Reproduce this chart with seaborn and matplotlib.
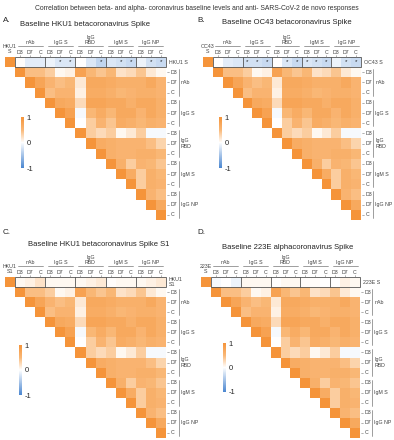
import numpy as np
import seaborn as sns
import matplotlib.pyplot as plt
from matplotlib.colors import LinearSegmentedColormap
from matplotlib.patches import Rectangle

sns.set_style('white')
plt.rcParams['font.family'] = ['Liberation Sans', 'DejaVu Sans']

# Etiquetas
grupos = ['nAb', 'IgG S', 'IgG\nRBD', 'IgM S', 'IgG NP']
tiempos = ['D3', 'D7', 'C']

# Matriz triangular superior (respuestas de novo, igual en los 4 paneles)
tri = [
    [1, 0.45, 0.45, 0.35, 0.05, 0.1, 0.8, 0.5, 0.4, 0.5, 0.2, 0.25, 0.4, 0.15, 0.05],
    [1, 0.75, 0.55, 0.45, 0.5, 0.15, 0.7, 0.7, 0.65, 0.6, 0.6, 0.6, 0.7, 0.55],
    [1, 0.45, 0.55, 0.55, 0.1, 0.65, 0.65, 0.6, 0.5, 0.55, 0.6, 0.6, 0.55],
    [1, 0.7, 0.65, 0.25, 0.75, 0.75, 0.7, 0.7, 0.6, 0.7, 0.7, 0.6],
    [1, 0.8, -0.05, 0.5, 0.65, 0.5, 0.7, 0.7, 0.55, 0.7, 0.6],
    [1, 0.0, 0.35, 0.55, 0.4, 0.65, 0.6, 0.5, 0.6, 0.55],
    [1, 0.35, 0.25, 0.35, 0.05, 0.15, 0.35, -0.05, -0.05],
    [1, 0.65, 0.6, 0.55, 0.55, 0.55, 0.45, 0.3],
    [1, 0.6, 0.55, 0.55, 0.6, 0.6, 0.5],
    [1, 0.6, 0.35, 0.55, 0.5, 0.4],
    [1, 0.65, 0.35, 0.6, 0.5],
    [1, 0.35, 0.6, 0.55],
    [1, 0.55, 0.45],
    [1, 0.7],
    [1],
]

# Correlaciones con el nivel basal de cada coronavirus
base_hku1_s = [0.02, -0.15, -0.15, -0.1, -0.2, -0.2, 0.0, -0.2, -0.35, -0.2, -0.25, -0.3, -0.1, -0.25, -0.3]
base_oc43_s = [0.0, -0.15, -0.2, -0.25, -0.25, -0.3, 0.0, -0.2, -0.3, -0.2, -0.25, -0.3, -0.1, -0.25, -0.3]
base_hku1_s1 = [0.05, 0.1, 0.2, 0.05, 0.05, 0.05, 0.05, 0.1, 0.15, 0.02, 0.05, 0.05, 0.05, 0.1, 0.15]
base_223e_s = [-0.05, 0.0, -0.1, 0.05, 0.05, 0.05, 0.0, 0.05, 0.05, 0.02, 0.02, 0.0, 0.0, 0.1, 0.05]

# columnas significativas (*)
sig_hku1_s = [4, 5, 8, 10, 11, 13, 14]
sig_oc43_s = [3, 4, 5, 7, 8, 9, 10, 11, 13, 14]
sig_hku1_s1 = []
sig_223e_s = []

titulos = ['Baseline HKU1 betacoronavirus Spike', 'Baseline OC43 betacoronavirus Spike',
           'Baseline HKU1 betacoronavirus Spike S1', 'Baseline 223E alphacoronavirus Spike']
letras = ['A.', 'B.', 'C.', 'D.']
nombres_izq = ['HKU1\nS', 'OC43\nS', 'HKU1\nS1', '223E\nS']
nombres_der = ['HKU1 S', 'OC43 S', 'HKU1\nS1', '223E S']
basales = [base_hku1_s, base_oc43_s, base_hku1_s1, base_223e_s]
sigs = [sig_hku1_s, sig_oc43_s, sig_hku1_s1, sig_223e_s]

# posiciones en pixeles (izq, arriba, der, abajo)
W, H = 394, 440
cajas = [(5, 57, 166, 220), (203, 57, 361, 220), (5, 277, 166, 438), (201, 277, 360, 438)]
cbar_pos = [(21, 117, 168), (219, 117, 168), (19, 345, 395), (223, 343, 392)]
titulo_pos = [(85, 24), (287, 23), (99, 245), (288, 247)]
letra_pos = [(3, 20), (197, 20), (3, 232), (197, 232)]

cmap = LinearSegmentedColormap.from_list(
    'azul_naranja', [(0, '#4a86d0'), (0.5, '#ffffff'), (0.75, '#f9b776'), (1, '#f5943a')])
gris = '#555555'
fs = 3.8

fig = plt.figure(figsize=(W / 100, H / 100), dpi=100)
fig.text(0.5, 1 - 9 / H, 'Correlation between beta- and alpha- coronavirus baseline levels and anti- SARS-CoV-2 de novo responses',
         ha='center', va='center', fontsize=4.9, color='#333333')

for p in range(4):
    l, t, r, b = cajas[p]
    ax = fig.add_axes([l / W, 1 - b / H, (r - l) / W, (b - t) / H])
    cx, cy0, cy1 = cbar_pos[p]
    cax = fig.add_axes([cx / W, 1 - cy1 / H, 3 / W, (cy1 - cy0) / H])

    M = np.full((16, 16), np.nan)
    M[0, 0] = 1
    M[0, 1:] = basales[p]
    for i, fila in enumerate(tri):
        M[i + 1, i + 1:] = fila
    mask = np.isnan(M)

    sns.heatmap(M, mask=mask, cmap=cmap, vmin=-1, vmax=1, ax=ax, cbar_ax=cax,
                xticklabels=False, yticklabels=False, cbar_kws={'ticks': [-1, 0, 1]})
    cb = ax.collections[0].colorbar
    cb.outline.set_visible(False)
    cax.tick_params(length=0, labelsize=5.5, pad=2)
    cax.set_yticklabels(['-1', '0', '1'])
    ax.set_xlim(0, 16)
    ax.set_ylim(16, 0)
    ax.axis('off')

    # caja de la fila basal
    ax.add_patch(Rectangle((1, 0), 15, 1, fill=False, edgecolor=gris, lw=0.6, clip_on=False))
    for c in [4, 7, 10, 13]:
        ax.plot([c, c], [0, 1], color=gris, lw=0.6, clip_on=False)
    for c in sigs[p]:
        ax.text(c + 1.5, 0.42, '*', ha='center', va='center', fontsize=4.5, color='#222222')

    # encabezados de columnas
    ax.text(0.5, -0.25, nombres_izq[p], ha='center', va='bottom', fontsize=fs, color='#444444', linespacing=1.1)
    for c in range(15):
        x = c + 1.5
        ax.plot([x, x], [0, -0.15], color='#777777', lw=0.4, clip_on=False)
        ax.text(x, -0.22, tiempos[c % 3], ha='center', va='bottom', fontsize=fs, color='#444444')
    for g, nombre in enumerate(grupos):
        x0 = g * 3 + 1
        ax.plot([x0 + 0.25, x0 + 2.75], [-1.05, -1.05], color='#777777', lw=0.5, clip_on=False)
        ax.text(x0 + 1.5, -1.15, nombre, ha='center', va='bottom', fontsize=fs, color='#444444', linespacing=1.1)

    # etiquetas de filas a la derecha
    ax.text(16.3, 0.5, nombres_der[p], ha='left', va='center', fontsize=fs, color='#444444', linespacing=1.1)
    for rr in range(15):
        y = rr + 1.5
        ax.plot([16.1, 16.3], [y, y], color='#777777', lw=0.4, clip_on=False)
        ax.text(16.45, y, tiempos[rr % 3], ha='left', va='center', fontsize=fs, color='#444444')
    for g, nombre in enumerate(grupos):
        y0 = g * 3 + 1
        ax.plot([17.25, 17.25], [y0 + 0.2, y0 + 2.8], color='#777777', lw=0.5, clip_on=False)
        ax.text(17.45, y0 + 1.5, nombre, ha='left', va='center', fontsize=fs, color='#444444', linespacing=1.1)

    tx, ty = titulo_pos[p]
    fig.text(tx / W, 1 - ty / H, titulos[p], ha='center', va='center', fontsize=5.5, color='#222222')
    lx, ly = letra_pos[p]
    fig.text(lx / W, 1 - ly / H, letras[p], ha='left', va='center', fontsize=5.8, color='#222222')

fig.savefig('out.png', dpi=100)
